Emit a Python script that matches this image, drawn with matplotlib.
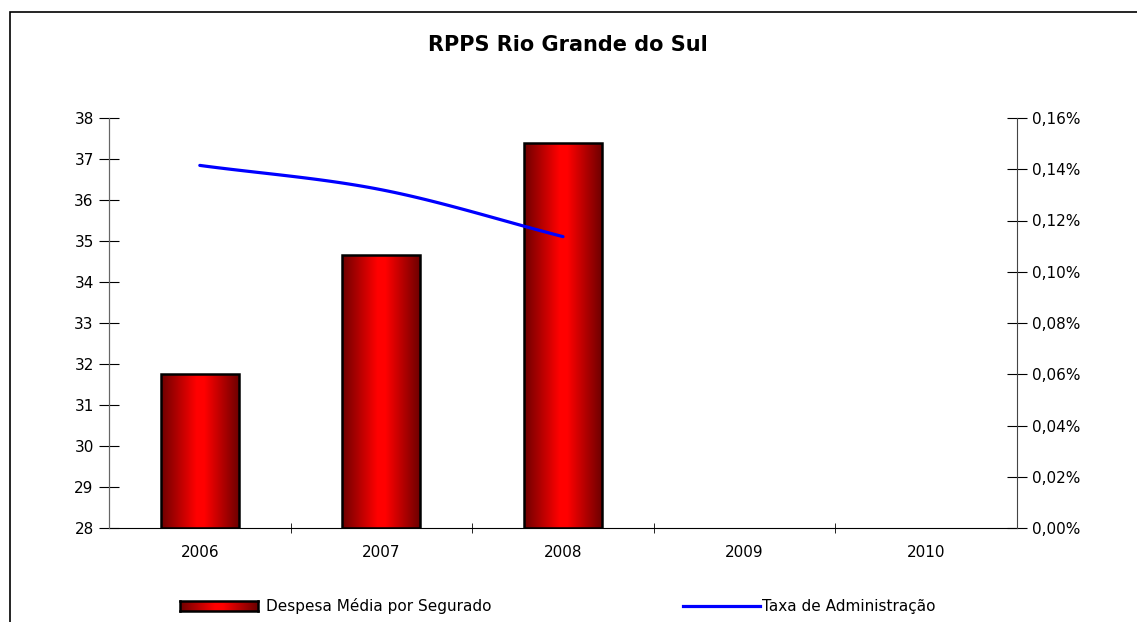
import numpy as np
import matplotlib
matplotlib.use("Agg")
import matplotlib.pyplot as plt
from matplotlib.colors import LinearSegmentedColormap
from matplotlib.patches import Rectangle
from matplotlib.lines import Line2D

plt.rcParams['font.family'] = ['DejaVu Sans']

# data
anos = ['2006', '2007', '2008', '2009', '2010']
despesa = [31.75, 34.65, 37.38]          # Despesa Média por Segurado
taxa_adm = [0.1415, 0.1320, 0.1137]      # Taxa de Administração (%)
y_ticks = list(range(28, 39))
y2_ticks = [0.00, 0.02, 0.04, 0.06, 0.08, 0.10, 0.12, 0.14, 0.16]

grad_cmap = LinearSegmentedColormap.from_list(
    'barra', [(0, '#6e0000'), (0.45, '#ff0000'), (0.55, '#ff0000'), (1, '#6a0000')])
grad = np.linspace(0, 1, 256).reshape(1, -1)


def suaviza(x, y, n=30):
    # catmull-rom curve through the points (like Excel "smoothed line")
    x = np.asarray(x, float)
    y = np.asarray(y, float)
    px = np.concatenate([[2 * x[0] - x[1]], x, [2 * x[-1] - x[-2]]])
    py = np.concatenate([[2 * y[0] - y[1]], y, [2 * y[-1] - y[-2]]])
    xs, ys = [], []
    t = np.linspace(0, 1, n)
    for i in range(1, len(px) - 2):
        for p, out in ((px, xs), (py, ys)):
            p0, p1, p2, p3 = p[i - 1], p[i], p[i + 1], p[i + 2]
            out.extend(0.5 * ((2 * p1) + (-p0 + p2) * t +
                              (2 * p0 - 5 * p1 + 4 * p2 - p3) * t ** 2 +
                              (-p0 + 3 * p1 - 3 * p2 + p3) * t ** 3))
    return xs, ys


fig = plt.figure(figsize=(11.37, 6.22), dpi=100)
fig.patch.set_facecolor('white')

# outer chart frame
fig.patches.append(Rectangle((10 / 1137, -0.05), 1.2, 0.05 + 1 - 12 / 622,
                             transform=fig.transFigure, fill=False,
                             edgecolor='black', linewidth=1.2))

ax = fig.add_axes([109 / 1137, 1 - 528 / 622, 908 / 1137, 410 / 622])
ax2 = ax.twinx()

x = np.arange(len(despesa))
bars = ax.bar(x, np.array(despesa) - 28, bottom=28, width=0.43,
              facecolor='none', edgecolor='black', linewidth=1.8, zorder=3)
for b in bars:
    x0, y0 = b.get_x(), b.get_y()
    im = ax.imshow(grad, cmap=grad_cmap, aspect='auto',
                   extent=(x0, x0 + b.get_width(), y0, y0 + b.get_height()),
                   zorder=2)
    im.set_clip_path(b)

ax.set_xlim(-0.5, 4.5)
ax.set_ylim(28, 38)
ax.set_yticks(y_ticks)
ax.set_xticks(range(len(anos)))
ax.set_xticklabels(anos)
ax.set_xticks(np.arange(0.5, 4.5, 1), minor=True)
ax.tick_params(axis='x', which='major', length=0, pad=12, labelsize=11)
ax.tick_params(axis='x', which='minor', length=7, direction='inout')
ax.tick_params(axis='y', length=14, direction='inout', labelsize=11, pad=4)

xs, ys = suaviza(x, taxa_adm)
ax2.plot(xs, ys, color='#0000ff', linewidth=2.3, solid_capstyle='round', zorder=4)
ax2.set_ylim(0, 0.16)
ax2.set_yticks(y2_ticks)
ax2.set_yticklabels([f'{v:.2f}%'.replace('.', ',') for v in y2_ticks])
ax2.tick_params(axis='y', length=14, direction='inout', labelsize=11, pad=4)

for a in (ax, ax2):
    a.spines['top'].set_visible(False)
ax.spines['right'].set_visible(False)
ax2.spines['left'].set_color('#666666')
ax.spines['left'].set_color('#666666')
ax2.spines['right'].set_color('#444444')
ax2.spines['bottom'].set_visible(False)
ax.spines['bottom'].set_color('black')

fig.text(568 / 1137, 1 - 45 / 622, 'RPPS Rio Grande do Sul', ha='center',
         va='center', fontsize=15, fontweight='bold')

# legend
sw = fig.add_axes([180 / 1137, 1 - 611 / 622, 78 / 1137, 10 / 622])
sw.imshow(grad, cmap=grad_cmap, aspect='auto')
sw.set_xticks([])
sw.set_yticks([])
for s in sw.spines.values():
    s.set_linewidth(1.8)
fig.text(266 / 1137, 1 - 606 / 622, 'Despesa Média por Segurado',
         ha='left', va='center', fontsize=11)
fig.lines.append(Line2D([683 / 1137, 760 / 1137], [1 - 606 / 622] * 2,
                        transform=fig.transFigure, color='#0000ff', linewidth=2.3))
fig.text(762 / 1137, 1 - 606 / 622, 'Taxa de Administração',
         ha='left', va='center', fontsize=11)

fig.savefig('out.png', dpi=100)
